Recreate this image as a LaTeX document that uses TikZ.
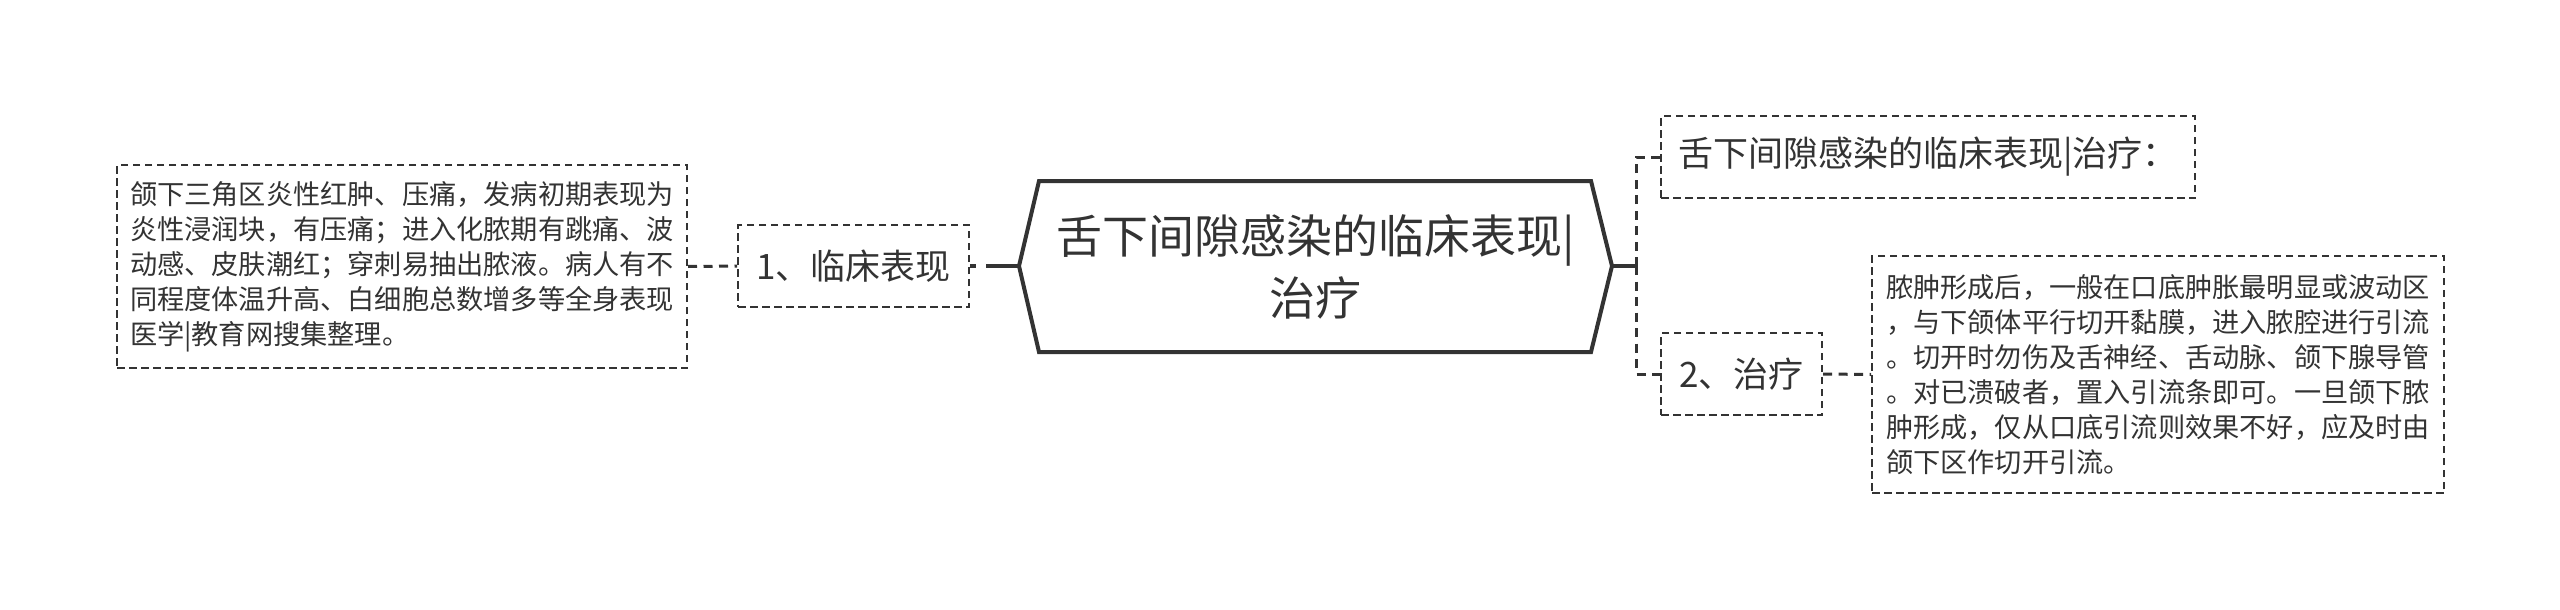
\documentclass[tikz,border=0pt]{standalone}
\usepackage{fontspec}
\setmainfont{Noto Sans CJK SC}
\definecolor{ink}{HTML}{333333}
\tikzset{
  dbox/.style={draw=ink, line width=2pt, dash pattern=on 7.5pt off 4.5pt, inner sep=0pt, text=ink, align=left},
  dconn/.style={draw=ink, line width=3pt, dash pattern=on 9pt off 6.5pt},
  sconn/.style={draw=ink, line width=3.5pt},
  hexline/.style={draw=ink, line width=4pt, line join=miter},
  smalltext/.style={font=\fontsize{27.2pt}{35pt}\selectfont},
  midtext/.style={font=\fontsize{35pt}{42pt}\selectfont},
  bigtext/.style={font=\fontsize{46pt}{62pt}\selectfont},
}
\begin{document}
\begin{tikzpicture}[x=1pt,y=-1pt]
\useasboundingbox (0,0) rectangle (2560,610);
\fill[white] (0,0) rectangle (2560,610);

% central hexagon
\coordinate (hW) at (1019,266);
\coordinate (hE) at (1612,266);
\coordinate (hNW) at (1039,181);
\coordinate (hNE) at (1591,181);
\coordinate (hSE) at (1591,352);
\coordinate (hSW) at (1039,352);
\draw[hexline] (hW) -- (hNW) -- (hNE) -- (hE) -- (hSE) -- (hSW) -- cycle;
\node[bigtext, text=ink, align=center, inner sep=0pt] (hub) at (1315.5,266.5) {舌下间隙感染的临床表现|\\治疗};

% left branch
\node[dbox, smalltext, minimum width=570pt, minimum height=203pt] (ltext) at (402,266.5)
  {颌下三角区炎性红肿、压痛，发病初期表现为\\炎性浸润块，有压痛；进入化脓期有跳痛、波\\动感、皮肤潮红；穿刺易抽出脓液。病人有不\\同程度体温升高、白细胞总数增多等全身表现\\医学|教育网搜集整理。};
\node[dbox, midtext, minimum width=231pt, minimum height=82pt] (b1) at (853.5,266) {1、临床表现};

% right branches
\node[dbox, midtext, minimum width=534pt, minimum height=82pt] (t1) at (1928,157) {舌下间隙感染的临床表现|治疗：};
\node[dbox, midtext, minimum width=161pt, minimum height=82pt] (t2) at (1741.5,374) {2、治疗};
\node[dbox, smalltext, minimum width=572pt, minimum height=237pt] (rtext) at (2158,374.5)
  {脓肿形成后，一般在口底肿胀最明显或波动区\\，与下颌体平行切开黏膜，进入脓腔进行引流\\。切开时勿伤及舌神经、舌动脉、颌下腺导管\\。对已溃破者，置入引流条即可。一旦颌下脓\\肿形成，仅从口底引流则效果不好，应及时由\\颌下区作切开引流。};

% connectors
\draw[dconn] (ltext.east) -- (b1.west);
\draw[draw=ink, line width=3.5pt, dash pattern=on 6pt off 10pt on 100pt off 1pt] (b1.east) -- (hW);
\coordinate (brk) at (1636,266);
\draw[sconn] (hE) -- (brk);
\draw[dconn] (brk) |- (t1.west);
\draw[dconn] (brk) |- (t2.west);
\draw[dconn] (t2.east) -- (rtext.west);
\end{tikzpicture}
\end{document}
